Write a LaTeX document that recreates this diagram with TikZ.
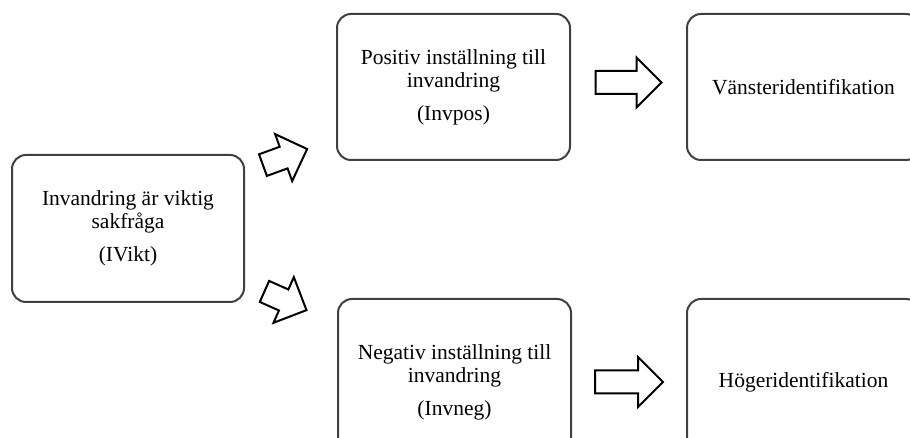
\documentclass[tikz,border=0pt]{standalone}
\usepackage{fontspec}
\setmainfont{Liberation Serif}[Ligatures=NoCommon]
\usetikzlibrary{calc}

\tikzset{
  pics/fatarrow/.style={code={
    \draw[black, line width=1pt] ({-#1/2},-11.5) -- ({#1/2-25},-11.5) -- ({#1/2-25},-25) -- ({#1/2},0) -- ({#1/2-25},25) -- ({#1/2-25},11.5) -- ({-#1/2},11.5) -- cycle;
  }},
  varbox/.style={draw=black!75, line width=1pt, rounded corners=7pt, minimum width=116.5pt, align=center, inner sep=0pt, font=\fontsize{10.75pt}{11.5pt}\selectfont},
}

\begin{document}
\begin{tikzpicture}[x=0.5pt, y=0.5pt]
  \useasboundingbox (0,0) rectangle (910,438);
  \clip (0,0) rectangle (910,438);
  \node[varbox, minimum width=116pt, minimum height=73.5pt] (ivikt) at (128,209.5) {Invandring är viktig\\sakfråga\\[5pt](IVikt)};
  \node[varbox, minimum height=73pt] (invpos) at (453.5,351) {Positiv inställning till\\invandring\\[5pt](Invpos)};
  \node[varbox, minimum height=83pt] (invneg) at (454.5,56) {Negativ inställning till\\invandring\\[5pt](Invneg)};
  \node[varbox, minimum height=73pt] (vanster) at (803.5,351) {Vänsteridentifikation};
  \node[varbox, minimum height=83pt] (hoger) at (803.5,56) {Högeridentifikation};

  \pic[rotate=20] at ($(ivikt.north east)!0.44!(invpos.south west)$) {fatarrow=47};
  \pic[rotate=-24] at ($(ivikt.south east)!0.44!(invneg.north west)$) {fatarrow=46};
  \pic at ($(invpos.east)!0.5!(vanster.west)+(0,4.5)$) {fatarrow=66};
  \pic at ($(invneg.east)!0.5!(hoger.west)$) {fatarrow=68};
\end{tikzpicture}
\end{document}
